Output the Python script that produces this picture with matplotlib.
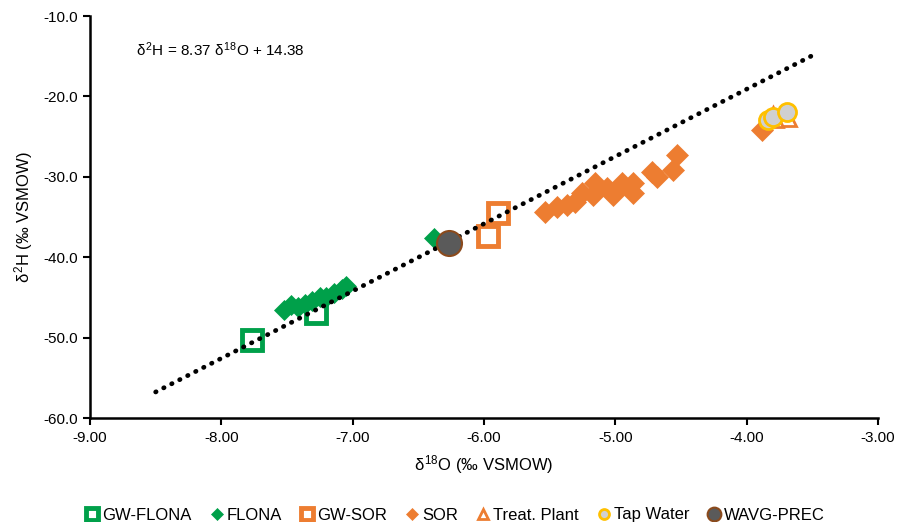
import matplotlib
matplotlib.use("Agg")
import matplotlib.pyplot as plt
import numpy as np

plt.rcParams['font.family'] = ['Liberation Sans', 'DejaVu Sans']
plt.rcParams['mathtext.fontset'] = 'custom'
plt.rcParams['mathtext.rm'] = 'Liberation Sans'
plt.rcParams['mathtext.it'] = 'Liberation Sans'

# ---- data ----
gw_flona_x = [-7.77, -7.28]
gw_flona_y = [-50.3, -46.9]

flona_x = [-7.52, -7.47, -7.42, -7.36, -7.31, -7.25, -7.20, -7.14, -7.08, -7.05, -6.38]
flona_y = [-46.6, -45.9, -46.2, -45.8, -45.4, -45.0, -44.9, -44.5, -44.0, -43.6, -37.6]

gw_sor_x = [-5.89, -5.97]
gw_sor_y = [-34.5, -37.4]

sor_x = [-5.535, -5.444, -5.368, -5.307, -5.254, -5.155, -5.170, -5.063, -5.018,
         -4.949, -4.865, -4.865, -4.721, -4.683, -4.530, -4.561, -3.883]
sor_y = [-34.4, -33.8, -33.5, -33.1, -32.0, -30.8, -32.3, -31.4, -32.3,
         -30.8, -30.8, -32.0, -29.4, -30.0, -27.3, -29.2, -24.2]

treat_x = [-3.70, -3.80]
treat_y = [-22.4, -22.6]

tap_x = [-3.84, -3.80, -3.69]
tap_y = [-22.9, -22.6, -21.9]

wavg_x = [-6.27]
wavg_y = [-38.2]

slope = 8.37
intercept = 14.38
line_x = [-8.5, -3.5]

x_ticks = [-9.0, -8.0, -7.0, -6.0, -5.0, -4.0, -3.0]
y_ticks = [-60.0, -50.0, -40.0, -30.0, -20.0, -10.0]

green = '#00A04A'
orange = '#ED7D31'

fig = plt.figure(figsize=(9.09, 5.22), dpi=100)
ax = fig.add_axes([90/909, 104/522, (878-90)/909, (418-16)/522])

lx = np.array(line_x)
ax.plot(lx, slope*lx + intercept, color='black', lw=3.4,
        linestyle=(0, (0.1, 1.8)), dash_capstyle='round', zorder=3)

ax.plot(gw_flona_x, gw_flona_y, 's', ms=15, mfc='white', mec=green, mew=3.5,
        ls='none', zorder=2, label='GW-FLONA')
ax.plot(flona_x, flona_y, 'D', ms=10.5, mfc=green, mec=green, mew=0.5,
        ls='none', zorder=2, label='FLONA')
ax.plot(gw_sor_x, gw_sor_y, 's', ms=15, mfc='white', mec=orange, mew=3.5,
        ls='none', zorder=2, label='GW-SOR')
ax.plot(sor_x, sor_y, 'D', ms=11.5, mfc=orange, mec=orange, mew=0.5,
        ls='none', zorder=2, label='SOR')
ax.plot(treat_x, treat_y, '^', ms=14, mfc='white', mec=orange, mew=2,
        ls='none', zorder=2, label='Treat. Plant')
ax.plot(tap_x, tap_y, 'o', ms=13, mfc='#D0D0D0', mec='#FFC000', mew=2,
        ls='none', zorder=2, label='Tap Water')
ax.plot(wavg_x, wavg_y, 'o', ms=18, mfc='#5A5A5A', mec='#8B4A1C', mew=1.5,
        ls='none', zorder=4, label='WAVG-PREC')

ax.set_xlim(-9, -3)
ax.set_ylim(-60, -10)
ax.set_xticks(x_ticks)
ax.set_xticklabels([f'{v:.2f}' for v in x_ticks])
ax.set_yticks(y_ticks)
ax.set_yticklabels([f'{v:.1f}' for v in y_ticks])
for s in ['top', 'right']:
    ax.spines[s].set_visible(False)
for s in ['left', 'bottom']:
    ax.spines[s].set_linewidth(1.8)
ax.tick_params(axis='both', direction='out', length=5, width=1.5, labelsize=11, pad=4)

ax.set_xlabel(r'$\delta^{18}$O (‰ VSMOW)', fontsize=12, labelpad=6)
ax.set_ylabel(r'$\delta^{2}$H (‰ VSMOW)', fontsize=12, labelpad=6)

ax.text(0.058, 0.916, r'$\delta^{2}$H = 8.37 $\delta^{18}$O + 14.38',
        transform=ax.transAxes, fontsize=11, va='center', ha='left')

handles, labels = ax.get_legend_handles_labels()
leg = fig.legend(handles, labels, loc='center',
                 bbox_to_anchor=(0.5, 7/522), ncol=7, frameon=False,
                 fontsize=12, handletextpad=0.1, columnspacing=1.0,
                 handlelength=1.0, markerscale=0.55)
fig.savefig('out.png', dpi=100)
